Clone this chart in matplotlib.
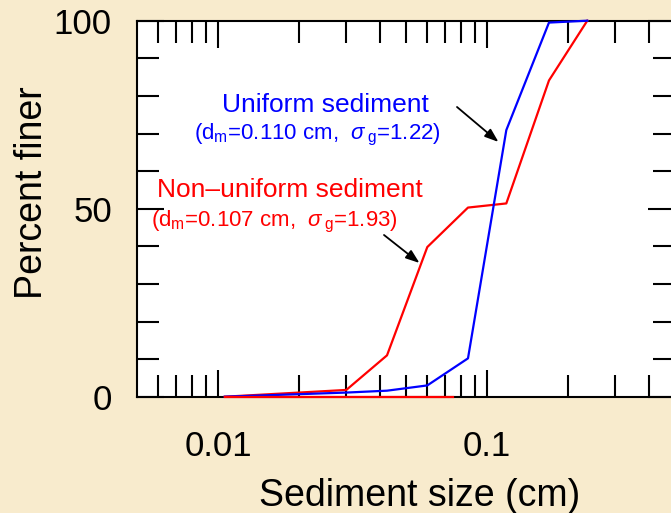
import matplotlib
matplotlib.use('Agg')
import matplotlib.pyplot as plt
from matplotlib.ticker import FixedLocator, FixedFormatter, NullFormatter

plt.rcParams['font.family'] = ['Liberation Sans', 'DejaVu Sans']
plt.rcParams['mathtext.fontset'] = 'custom'
plt.rcParams['mathtext.rm'] = 'Liberation Sans'
plt.rcParams['mathtext.it'] = 'Liberation Sans:italic'
plt.rcParams['mathtext.bf'] = 'Liberation Sans:bold'

# sieve sizes (cm) and percent finer
size_cm = [0.0106, 0.030, 0.0425, 0.060, 0.085, 0.118, 0.170, 0.236]
uniform_pct = [0, 1.1, 1.6, 3.0, 10.2, 70.9, 99.5, 100]
nonuniform_pct = [0, 1.8, 11.0, 39.8, 50.3, 51.4, 84.1, 100]
# red baseline segment along 0 %
base_size = [0.0106, 0.075]
base_pct = [0, 0]

x_major = [0.01, 0.1]
x_major_labels = ['0.01', '0.1']
x_minor = [0.006, 0.007, 0.008, 0.009, 0.02, 0.03, 0.04, 0.05, 0.06, 0.07, 0.08, 0.09, 0.2, 0.3, 0.4]
y_major = [0, 50, 100]
y_minor = [10, 20, 30, 40, 60, 70, 80, 90]

fig = plt.figure(figsize=(6.71, 5.13), dpi=100, facecolor='#f8ebcd')
ax = fig.add_axes([137 / 671, 116.3 / 513, 538 / 671, 376 / 513])
ax.set_facecolor('white')

ax.plot(size_cm, nonuniform_pct, color='#ff0000', lw=1.6, clip_on=False, zorder=3)
ax.plot(size_cm, uniform_pct, color='#0000ff', lw=1.6, clip_on=False, zorder=3)
ax.plot(base_size, base_pct, color='#ff0000', lw=1.6, clip_on=False, zorder=4)

ax.set_xscale('log')
ax.set_xlim(0.005, 0.5)
ax.set_ylim(0, 100)

ax.xaxis.set_major_locator(FixedLocator(x_major))
ax.xaxis.set_major_formatter(FixedFormatter(x_major_labels))
ax.xaxis.set_minor_locator(FixedLocator(x_minor))
ax.xaxis.set_minor_formatter(NullFormatter())
ax.yaxis.set_major_locator(FixedLocator(y_major))
ax.yaxis.set_minor_locator(FixedLocator(y_minor))

ax.tick_params(which='both', direction='in', top=True, right=True, width=1.5, color='black')
ax.tick_params(which='major', length=19.5, labelsize=25)
ax.tick_params(which='minor', length=15.8)
ax.tick_params(axis='x', which='major', pad=24)
ax.tick_params(axis='y', which='major', pad=18)
for s in ax.spines.values():
    s.set_linewidth(1.5)

ax.set_xlabel('Sediment size (cm)', fontsize=27)
ax.xaxis.set_label_coords(0.525, -0.216)
ax.set_ylabel('Percent finer', fontsize=27)
ax.yaxis.set_label_coords(-0.195, 0.542)
ax.yaxis.label.set_verticalalignment('center')

ax.text(0.351, 0.776, 'Uniform sediment', color='#0000ff', fontsize=19,
        ha='center', va='center', transform=ax.transAxes)
ax.text(0.3355, 0.696, r'(d$_{\rm m}$=0.110 cm,  $\sigma\,$$_{\rm g}$=1.22)', color='#0000ff',
        fontsize=16, ha='center', va='center', transform=ax.transAxes)
ax.text(0.285, 0.55, 'Non\u2013uniform sediment', color='#ff0000', fontsize=19,
        ha='center', va='center', transform=ax.transAxes)
ax.text(0.2546, 0.465, r'(d$_{\rm m}$=0.107 cm,  $\sigma\,$$_{\rm g}$=1.93)', color='#ff0000',
        fontsize=16, ha='center', va='center', transform=ax.transAxes)

arrow = dict(arrowstyle='-|>,head_length=0.55,head_width=0.2', color='black', lw=1.3,
             mutation_scale=15, shrinkA=0, shrinkB=0)
ax.annotate('', xy=(0.6719, 0.6775), xytext=(0.5948, 0.7705), xycoords='axes fraction',
            arrowprops=arrow)
ax.annotate('', xy=(0.5251, 0.3556), xytext=(0.4591, 0.4301), xycoords='axes fraction',
            arrowprops=arrow)

fig.savefig('out.png', dpi=100, facecolor=fig.get_facecolor())
